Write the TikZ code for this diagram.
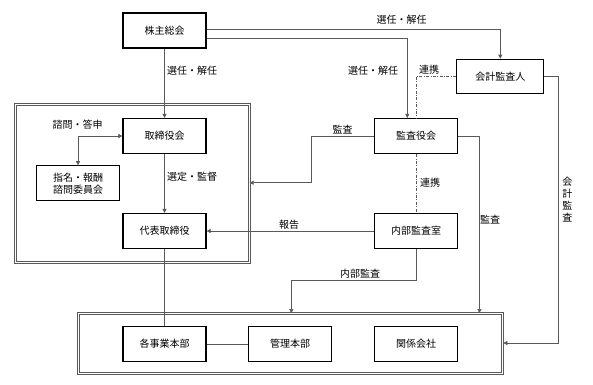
\documentclass[tikz,border=0pt]{standalone}
\usepackage{fontspec}
\setmainfont{Noto Sans CJK JP}
\usetikzlibrary{arrows.meta}

\begin{document}
\begin{tikzpicture}[
    x=1pt, y=-1pt,
    every node/.style={font=\fontsize{10}{12}\selectfont, inner sep=1pt},
    box/.style={draw, line width=1.2pt, align=center, minimum width=83pt, minimum height=35pt, inner sep=0pt},
    frame/.style={draw=black!65, line width=1pt, double=white, double distance=1.3pt, inner sep=0pt},
    flow/.style={draw=black!65, line width=0.6pt, -{Triangle[length=4pt, width=4pt]}},
    plain/.style={draw=black!65, line width=0.6pt},
    link/.style={draw=black!65, line width=0.6pt, dash pattern=on 3pt off 1.5pt on 0.8pt off 1.5pt}
]
\useasboundingbox (0,0) rectangle (593,384);
% frames
\node[frame, minimum width=234pt, minimum height=158.5pt] (upper) at (132.2,183.4) {};
\node[frame, minimum width=424pt, minimum height=60pt] (lower) at (290.8,343.6) {};
% boxes
\node[box] (soukai) at (164.5,30.5) {株主総会};
\node[box] (torishimari) at (164.5,136) {取締役会};
\node[box] (iinkai) at (78,183.3) {指名・報酬\\諮問委員会};
\node[box] (daihyo) at (164.5,231) {代表取締役};
\node[box] (kansayaku) at (416,136) {監査役会};
\node[box] (naibu) at (416,231) {内部監査室};
\node[box, minimum width=87pt, minimum height=34pt] (kaikei) at (500.3,76.3) {会計監査人};
\node[box] (jigyo) at (164.5,344) {各事業本部};
\node[box] (kanri) at (290,344) {管理本部};
\node[box] (kankei) at (416,344) {関係会社};
% connectors
\draw[flow] (soukai) -- (torishimari);
\draw[flow] (soukai.east |- 0,29.3) -| (kaikei.north);
\draw[flow] (soukai.east |- 0,38.7) -| (407.3,0 |- kansayaku.north);
\draw[link] (kaikei.west) -| (kansayaku.north);
\draw[link] (kansayaku.south) -- (naibu.north);
\draw[flow] (kansayaku.west) -| (311.7,182.7) -- (upper.east |- 0,182.7);
\draw[flow] (naibu.west) -- (daihyo.east);
\draw[flow] (kansayaku.east) -| (lower.north -| 479.4,0);
\draw[flow] (naibu.south) |- (291.3,280) -- (lower.north -| 291.3,0);
\draw[flow] (kaikei.east) -| (558.5,343) -- (lower.east |- 0,343);
\draw[flow] (torishimari) -- (daihyo);
\draw[flow, {Triangle[length=4pt, width=4pt]}-{Triangle[length=4pt, width=4pt]}] (torishimari.west) -| (iinkai.north);
\draw[plain] (daihyo) -- (jigyo);
\draw[plain] (jigyo) -- (kanri);
% labels
\node (l1) at (192,71) {選任・解任};
\node (l2) at (401.7,20) {選任・解任};
\node (l3) at (373,71) {選任・解任};
\node (l4) at (429,70) {連携};
\node (l5) at (430,183) {連携};
\node (l6) at (77.5,125) {諮問・答申};
\node (l7) at (192,177) {選定・監督};
\node (l8) at (342.7,130) {監査};
\node (l9) at (289,225) {報告};
\node[anchor=west] (l10) at (479,220) {監査};
\node (l11) at (360,274) {内部監査};
\node[align=center] (l12) at (567.3,200) {会\\計\\監\\査};
\end{tikzpicture}
\end{document}
